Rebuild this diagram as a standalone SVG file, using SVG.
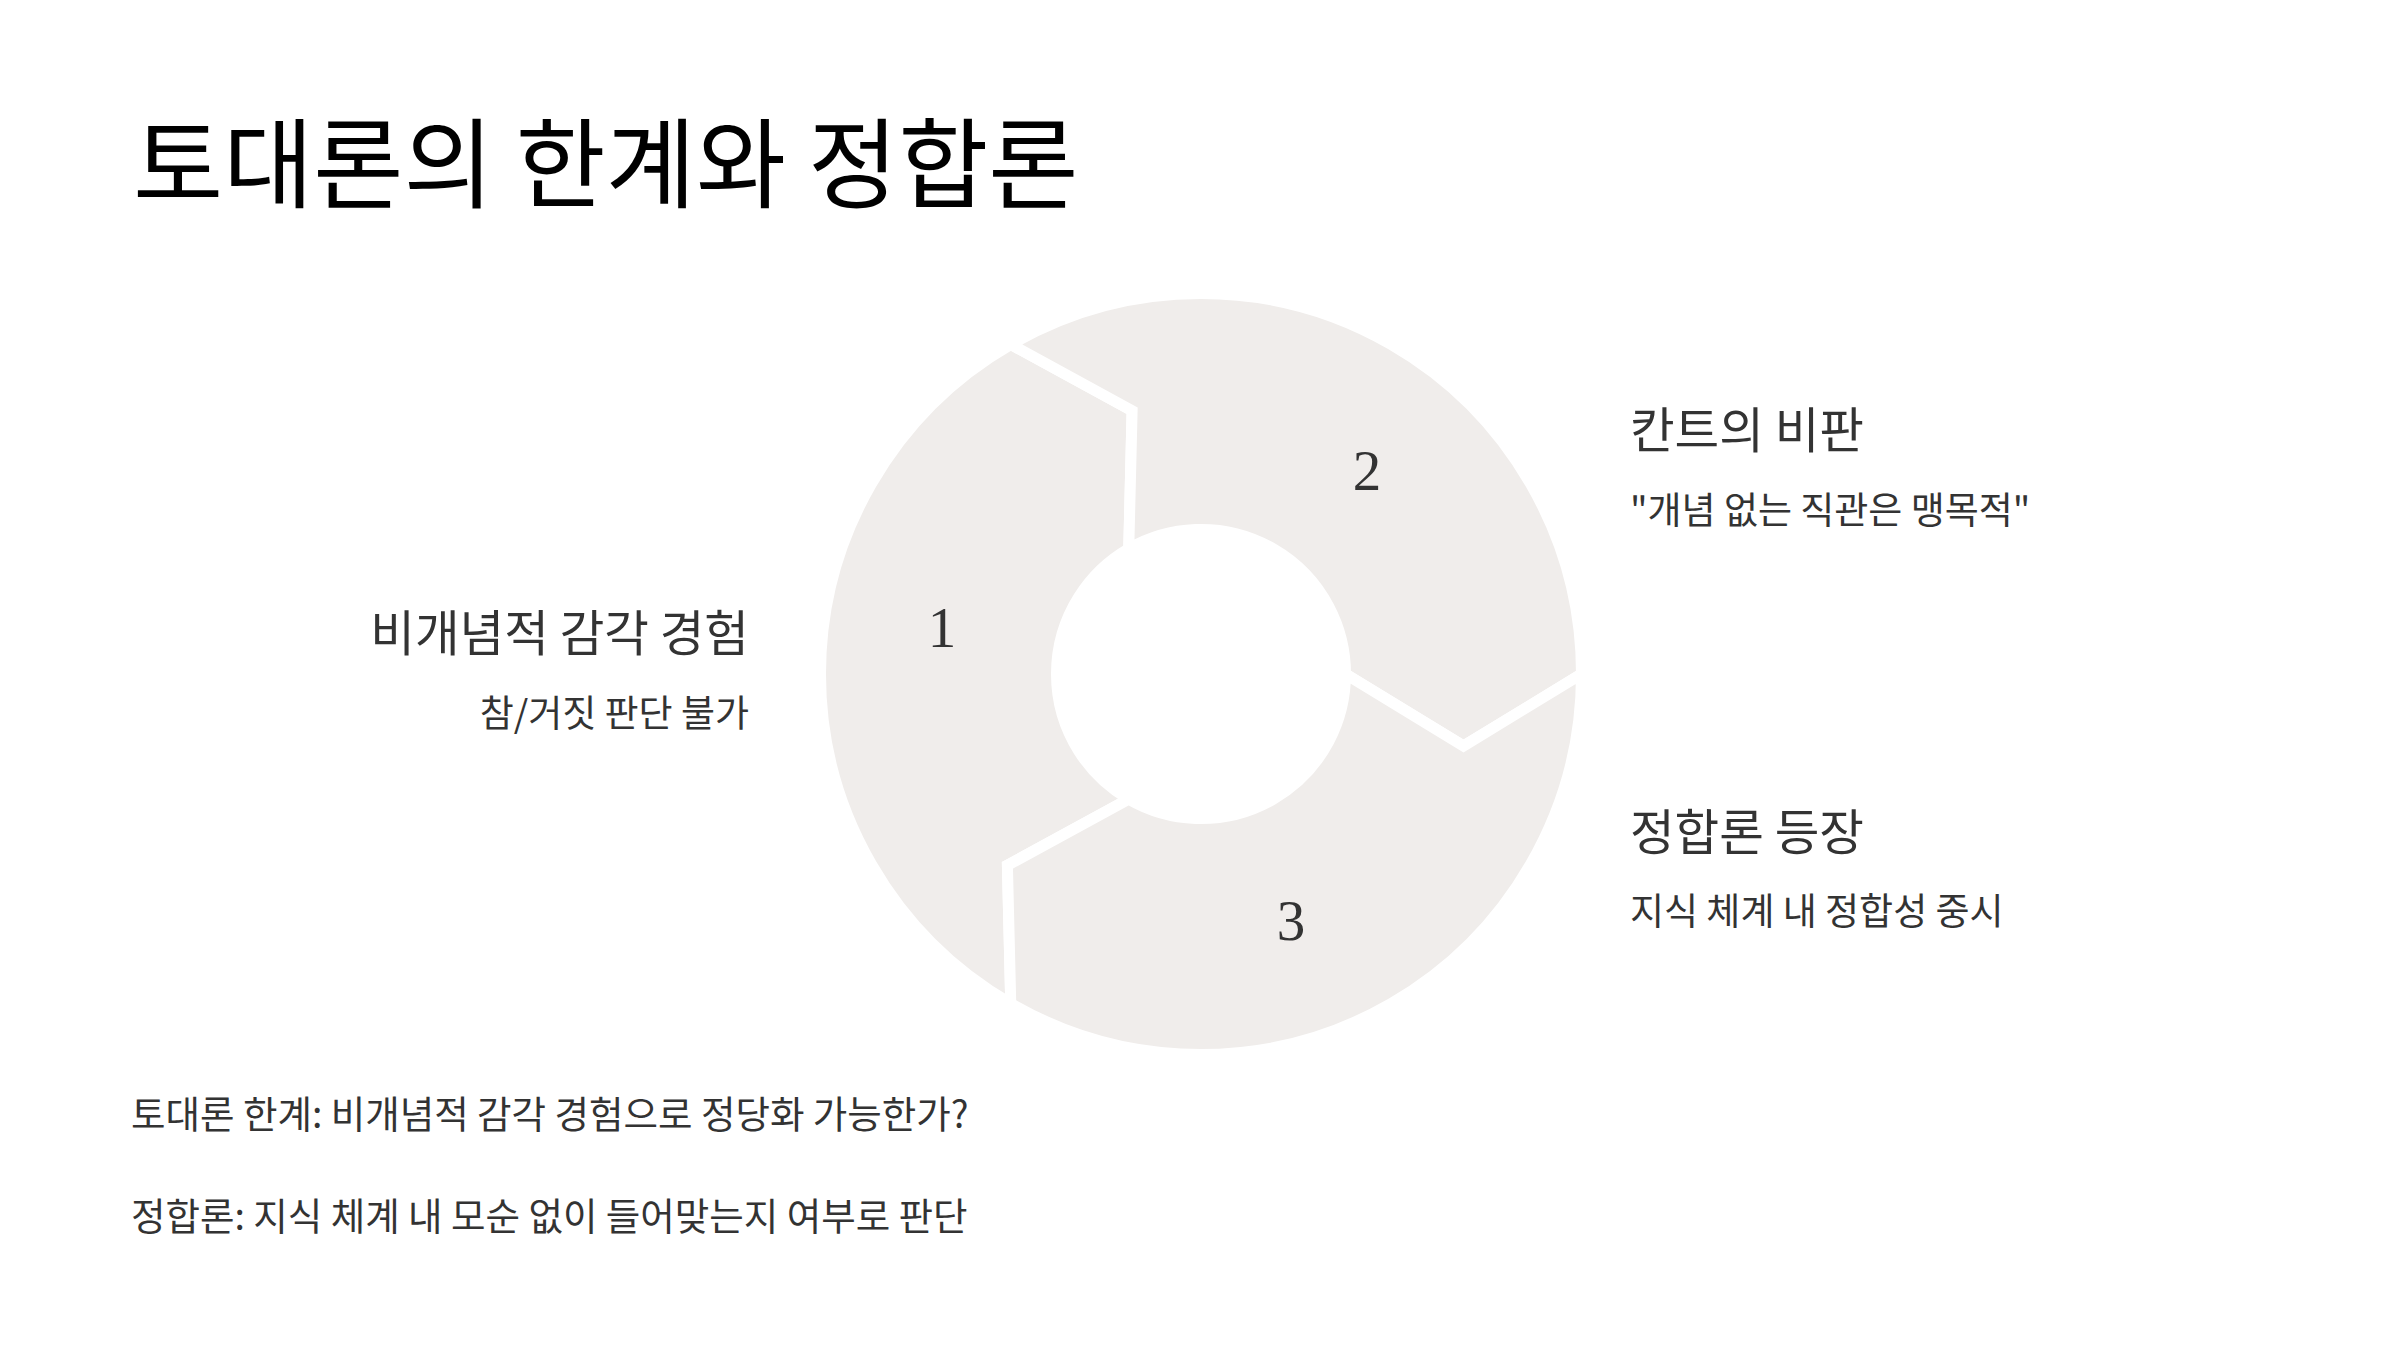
<svg xmlns="http://www.w3.org/2000/svg" width="2400" height="1352" viewBox="0 0 2400 1352">
  <style>
    .seg { fill: #F0EDEB; stroke: #FFFFFF; stroke-width: 11; stroke-linejoin: miter; }
    .num { font-family: "Liberation Serif", "DejaVu Serif", serif; font-size: 57px; fill: #333333; text-anchor: middle; }
    .title { font-family: "Noto Sans CJK KR", "Noto Sans", sans-serif; font-size: 98px; fill: #000000; }
    .head { font-family: "Noto Sans CJK KR", "Noto Sans", sans-serif; font-size: 48.5px; fill: #333333; }
    .sub { font-family: "Noto Sans CJK KR", "Noto Sans", sans-serif; font-size: 37px; fill: #333333; }
    .note { font-family: "Noto Sans CJK KR", "Noto Sans", sans-serif; font-size: 37.5px; fill: #333333; }
    .end { text-anchor: end; }
  </style>
  <rect width="2400" height="1352" fill="#FFFFFF"/>
  <text class="title" x="133" y="200">토대론의 한계와 정합론</text>

  <g id="segment-1">
    <path class="seg" d="M 1010.75 1003.53 A 380.5 380.5 0 0 1 1010.75 344.47 L 1132.1 410.67 L 1128.75 548.86 A 144.5 144.5 0 0 0 1128.75 799.14 L 1007.4 865.33 Z"/>
    <text class="num" x="942" y="647">1</text>
  </g>
  <g id="segment-2">
    <path class="seg" d="M 1010.75 344.47 A 380.5 380.5 0 0 1 1581.5 674 L 1463.5 746 L 1345.5 674 A 144.5 144.5 0 0 0 1128.75 548.86 L 1132.1 410.67 Z"/>
    <text class="num" x="1367" y="490">2</text>
  </g>
  <g id="segment-3">
    <path class="seg" d="M 1581.5 674 A 380.5 380.5 0 0 1 1010.75 1003.53 L 1007.4 865.33 L 1128.75 799.14 A 144.5 144.5 0 0 0 1345.5 674 L 1463.5 746 Z"/>
    <text class="num" x="1291" y="940">3</text>
  </g>

  <g id="label-1">
    <text class="head end" x="749" y="651">비개념적 감각 경험</text>
    <text class="sub end" x="749" y="727">참/거짓 판단 불가</text>
  </g>
  <g id="label-2">
    <text class="head" x="1630" y="448">칸트의 비판</text>
    <text class="sub" x="1630" y="524">"개념 없는 직관은 맹목적"</text>
  </g>
  <g id="label-3">
    <text class="head" x="1630" y="850">정합론 등장</text>
    <text class="sub" x="1630" y="925">지식 체계 내 정합성 중시</text>
  </g>

  <g id="notes">
    <text class="note" x="131" y="1128">토대론 한계: 비개념적 감각 경험으로 정당화 가능한가?</text>
    <text class="note" x="131" y="1230">정합론: 지식 체계 내 모순 없이 들어맞는지 여부로 판단</text>
  </g>
  <g id="connectors"></g>
</svg>
